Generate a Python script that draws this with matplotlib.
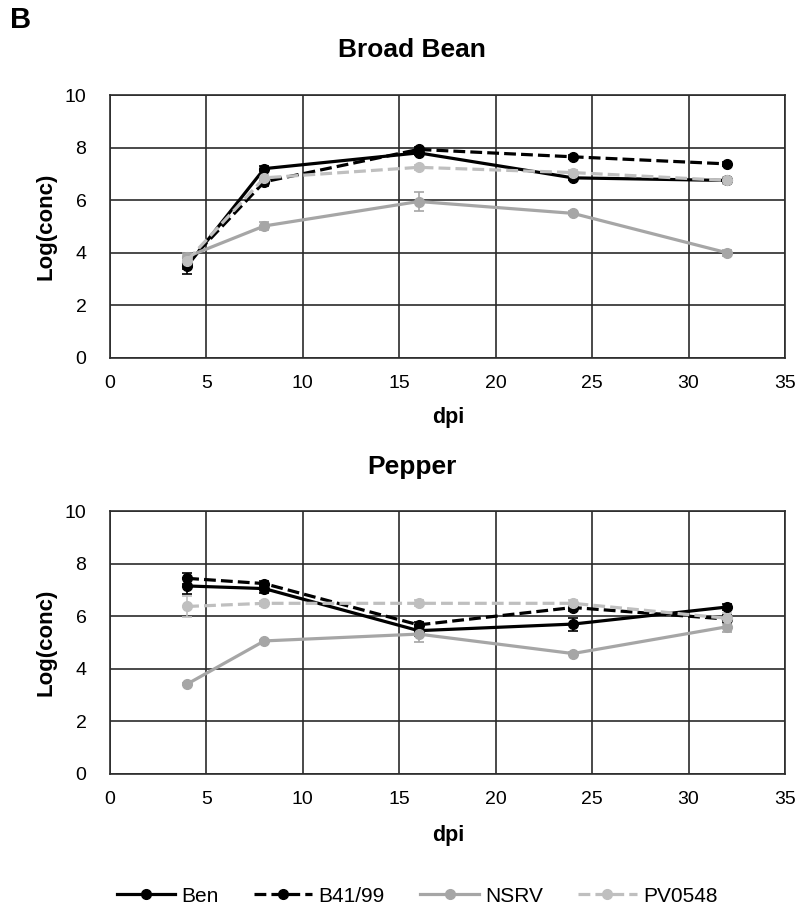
import matplotlib
matplotlib.use("Agg")
import matplotlib.pyplot as plt
from matplotlib.lines import Line2D

plt.rcParams['font.family'] = ['Liberation Sans', 'DejaVu Sans']

dpi_days = [4, 8, 16, 24, 32]
series_names = ["Ben", "B41/99", "NSRV", "PV0548"]

# Broad Bean
bb_ben = [3.5, 7.2, 7.8, 6.85, 6.75]
bb_b41 = [3.6, 6.7, 7.93, 7.65, 7.38]
bb_nsrv = [3.85, 5.02, 5.95, 5.5, 4.0]
bb_pv = [3.7, 6.85, 7.25, 7.05, 6.75]
bb_ben_err = [0.3, 0.1, 0.1, 0.1, 0.1]
bb_b41_err = [0.2, 0.15, 0.1, 0.08, 0.08]
bb_nsrv_err = [0.15, 0.15, 0.35, 0.08, 0.12]
bb_pv_err = [0.2, 0.1, 0.1, 0.1, 0.12]

# Pepper
pp_ben = [7.15, 7.05, 5.45, 5.7, 6.35]
pp_b41 = [7.44, 7.24, 5.67, 6.33, 5.89]
pp_nsrv = [3.42, 5.06, 5.32, 4.58, 5.6]
pp_pv = [6.37, 6.49, 6.49, 6.49, 5.92]
pp_ben_err = [0.3, 0.15, 0.2, 0.25, 0.1]
pp_b41_err = [0.2, 0.1, 0.1, 0.15, 0.15]
pp_nsrv_err = [0.05, 0.05, 0.3, 0.05, 0.2]
pp_pv_err = [0.4, 0.1, 0.12, 0.12, 0.2]

colors = ["#000000", "#000000", "#a6a6a6", "#bfbfbf"]
styles = ["-", "--", "-", "--"]
xticks = [0, 5, 10, 15, 20, 25, 30, 35]
yticks = [0, 2, 4, 6, 8, 10]

W, H = 801, 907
fig = plt.figure(figsize=(W / 100, H / 100), dpi=100)

def axes_px(left, top, right, bottom):
    return fig.add_axes([left / W, 1 - bottom / H, (right - left) / W, (bottom - top) / H])

def draw(ax, vals, errs):
    for v, e, c, ls, name in zip(vals, errs, colors, styles, series_names):
        ax.errorbar(dpi_days, v, yerr=e, color=c, ls=ls, lw=2.3, marker='o', ms=7,
                    capsize=3.5, elinewidth=1.2, capthick=1.2, label=name, zorder=3)
    ax.set_xlim(0, 35)
    ax.set_ylim(0, 10)
    ax.set_xticks(xticks)
    ax.set_yticks(yticks)
    ax.grid(True, color="#2b2b2b", lw=1.2, zorder=0)
    ax.set_axisbelow(True)
    for s in ax.spines.values():
        s.set_color("#2b2b2b")
        s.set_linewidth(1.2)
    ax.tick_params(axis='x', length=0, labelsize=14, pad=12, colors="#000000")
    ax.tick_params(axis='y', length=0, labelsize=14, pad=17, colors="#000000")
    ax.set_ylabel("Log(conc)", fontsize=16, fontweight='bold')
    ax.yaxis.set_label_coords(-53 / 675, 0.5)

ax1 = axes_px(110, 95, 785, 358)
draw(ax1, [bb_ben, bb_b41, bb_nsrv, bb_pv], [bb_ben_err, bb_b41_err, bb_nsrv_err, bb_pv_err])
ax2 = axes_px(110, 511, 785, 774)
draw(ax2, [pp_ben, pp_b41, pp_nsrv, pp_pv], [pp_ben_err, pp_b41_err, pp_nsrv_err, pp_pv_err])

fig.text(412 / W, 1 - 50 / H, "Broad Bean", ha='center', va='center', fontsize=19, fontweight='bold')
fig.text(412 / W, 1 - 467 / H, "Pepper", ha='center', va='center', fontsize=19, fontweight='bold')
fig.text(448 / W, 1 - 418 / H, "dpi", ha='center', va='center', fontsize=15.5, fontweight='bold')
fig.text(448 / W, 1 - 836 / H, "dpi", ha='center', va='center', fontsize=15.5, fontweight='bold')
fig.text(10 / W, 1 - 20 / H, "B", ha='left', va='center', fontsize=21, fontweight='bold')

handles = [Line2D([], [], color=c, ls=ls, lw=2.3, marker='o', ms=7) for c, ls in zip(colors, styles)]
fig.legend(handles, series_names, loc='center', bbox_to_anchor=(417 / W, 1 - 896 / H), ncol=4,
           frameon=False, fontsize=15, handlelength=2.8, handletextpad=0.3, columnspacing=1.7)

fig.savefig("out.png", dpi=100)
